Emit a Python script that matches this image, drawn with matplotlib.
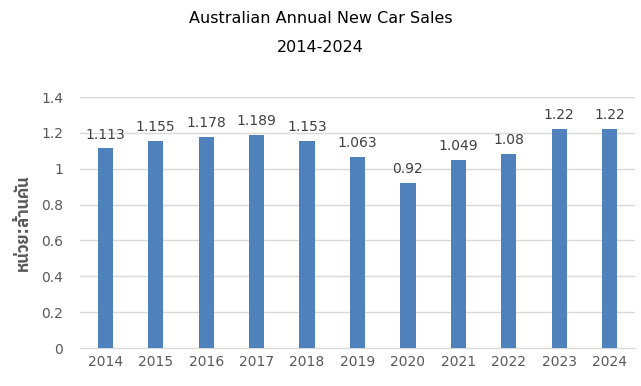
import matplotlib
matplotlib.use("Agg")
import matplotlib.pyplot as plt
from matplotlib import font_manager

# datos
years = ["2014", "2015", "2016", "2017", "2018", "2019", "2020", "2021", "2022", "2023", "2024"]
sales = [1.113, 1.155, 1.178, 1.189, 1.153, 1.063, 0.92, 1.049, 1.08, 1.22, 1.22]
value_labels = ["1.113", "1.155", "1.178", "1.189", "1.153", "1.063", "0.92", "1.049", "1.08", "1.22", "1.22"]
y_ticks = [0, 0.2, 0.4, 0.6, 0.8, 1, 1.2, 1.4]
y_tick_labels = ["0", "0.2", "0.4", "0.6", "0.8", "1", "1.2", "1.4"]

# fuentes con tailandés, si hay alguna
thai = sorted(set(f.name for f in font_manager.fontManager.ttflist
                  if "Thai" in f.name or "Loma" in f.name or "Garuda" in f.name))
plt.rcParams['font.family'] = ['DejaVu Sans'] + thai
plt.rcParams['ytick.major.pad'] = 12
plt.rcParams['xtick.major.pad'] = 5

fig = plt.figure(figsize=(6.41, 3.86), dpi=100)
ax = fig.add_axes([0.1248, 0.0984, 0.8658, 0.6503])

x = list(range(len(years)))
ax.bar(x, sales, width=0.3, color="#4f81bd", zorder=3)

for xi, v, lab in zip(x, sales, value_labels):
    ax.annotate(lab, (xi, v), xytext=(0, 5), textcoords="offset points",
                ha="center", va="bottom", fontsize=10, color="#404040")

ax.set_xlim(-0.5, len(years) - 0.5)
ax.set_ylim(0, 1.4)
ax.set_xticks(x)
ax.set_xticklabels(years)
ax.set_yticks(y_ticks)
ax.set_yticklabels(y_tick_labels)
ax.tick_params(axis="both", length=0, labelsize=10, colors="#595959")
ax.grid(axis="y", color="#d9d9d9", linewidth=1, zorder=0)
for s in ["top", "right", "left"]:
    ax.spines[s].set_visible(False)
ax.spines["bottom"].set_color("#d9d9d9")

ax.set_ylabel("หน่วย:ล้านคัน", fontsize=12, color="#595959", fontweight="bold")
ax.yaxis.set_label_coords(-0.086, 0.5)

fig.text(0.5, 0.953, "Australian Annual New Car Sales", ha="center", va="center", fontsize=11.5, color="#000000")
fig.text(0.5, 0.878, "2014-2024", ha="center", va="center", fontsize=11.5, color="#000000")

fig.savefig("out.png", dpi=100)
